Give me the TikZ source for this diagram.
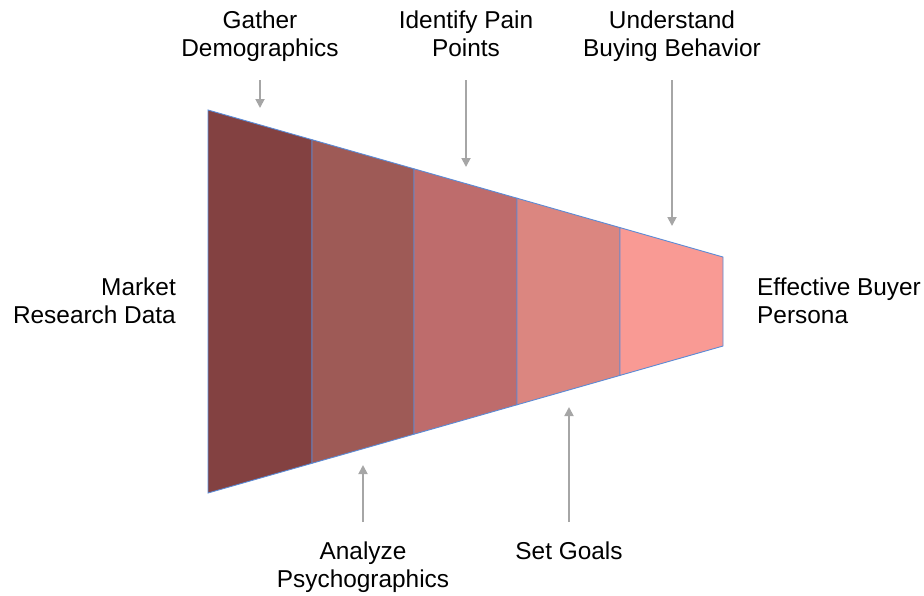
\documentclass[tikz,border=0pt]{standalone}
\usepackage{fontspec}
\setmainfont{Liberation Sans}
\usetikzlibrary{arrows.meta}
\definecolor{segA}{HTML}{834141}
\definecolor{segB}{HTML}{9E5A56}
\definecolor{segC}{HTML}{BE6C6C}
\definecolor{segD}{HTML}{DB8680}
\definecolor{segE}{HTML}{F99A94}
\definecolor{edgeblue}{HTML}{5B8BD6}
\definecolor{arrowgray}{HTML}{A6A6A6}
\tikzset{
  seg/.style={draw=edgeblue, line width=0.9pt, line join=miter},
  lbl/.style={font=\fontsize{24.4}{28}\selectfont, align=center, inner sep=0pt, text=black},
  pointer/.style={draw=arrowgray, line width=1.8pt, -{Triangle[length=9pt,width=9pt]}}
}
\begin{document}
\begin{tikzpicture}[x=1pt,y=-1pt]
\useasboundingbox (0,0) rectangle (924,595);
% funnel corner coordinates
\coordinate (t0) at (208,110);
\coordinate (t1) at (312,139.7);
\coordinate (t2) at (414,168.8);
\coordinate (t3) at (517,198.2);
\coordinate (t4) at (620,227.6);
\coordinate (t5) at (723,257);
\coordinate (b0) at (208,493);
\coordinate (b1) at (312,463.3);
\coordinate (b2) at (414,434.2);
\coordinate (b3) at (517,404.8);
\coordinate (b4) at (620,375.4);
\coordinate (b5) at (723,346);
\filldraw[seg, fill=segA] (t0) -- (t1) -- (b1) -- (b0) -- cycle;
\filldraw[seg, fill=segB] (t1) -- (t2) -- (b2) -- (b1) -- cycle;
\filldraw[seg, fill=segC] (t2) -- (t3) -- (b3) -- (b2) -- cycle;
\filldraw[seg, fill=segD] (t3) -- (t4) -- (b4) -- (b3) -- cycle;
\filldraw[seg, fill=segE] (t4) -- (t5) -- (b5) -- (b4) -- cycle;
% labels (base anchor = baseline of last line)
\node[lbl, anchor=base] (gather) at (260,56) {Gather\\Demographics};
\node[lbl, anchor=base] (pain) at (466,56) {Identify Pain\\Points};
\node[lbl, anchor=base] (buying) at (672,56) {Understand\\Buying Behavior};
\node[lbl, anchor=base] (analyze) at (363,587) {Analyze\\Psychographics};
\node[lbl, anchor=base] (goals) at (569,559) {Set Goals};
\node[lbl, align=right, anchor=base east] (market) at (176,323) {Market\\Research Data};
\node[lbl, align=left, anchor=base west] (persona) at (757,323) {Effective Buyer\\Persona};
% arrow anchors
\coordinate (ga) at (260,80);   \coordinate (gb) at (260,108);
\coordinate (pa) at (466,80);   \coordinate (pb) at (466,167);
\coordinate (ua) at (672,80);   \coordinate (ub) at (672,226);
\coordinate (aa) at (363,522);  \coordinate (ab) at (363,465);
\coordinate (sa) at (569,522);  \coordinate (sb) at (569,407);
\draw[pointer] (ga) -- (gb);
\draw[pointer] (pa) -- (pb);
\draw[pointer] (ua) -- (ub);
\draw[pointer] (aa) -- (ab);
\draw[pointer] (sa) -- (sb);
\end{tikzpicture}
\end{document}
